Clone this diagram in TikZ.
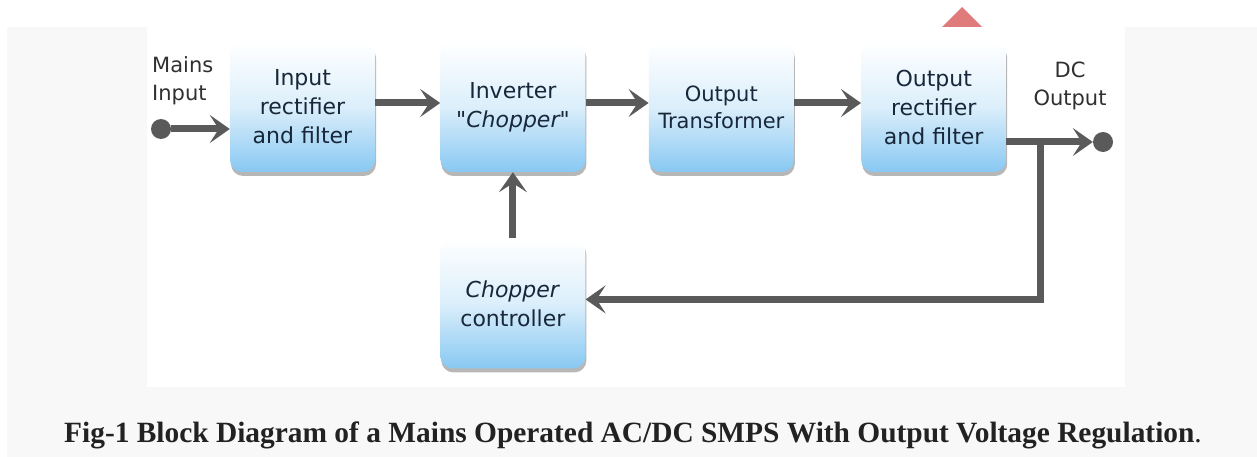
\documentclass[tikz,border=0pt]{standalone}
\usepackage{fontspec}
\setmainfont{DejaVu Sans}
\newfontfamily\blockfont{DejaVu Sans}
\newfontfamily\captionfont{Liberation Serif}
\usepackage{tikz}
\usetikzlibrary{arrows.meta}
\usetikzlibrary{positioning}
\usetikzlibrary{shadows}

\definecolor{pagegray}{HTML}{F8F8F8}
\definecolor{wiregray}{HTML}{5A5A5A}
\definecolor{boxblue}{HTML}{88C8F2}
\definecolor{boxtext}{HTML}{18283A}
\definecolor{labelgray}{HTML}{303030}
\definecolor{markred}{HTML}{E07B7B}
\definecolor{captiongray}{HTML}{222222}

\begin{document}
\begin{tikzpicture}[x=1pt, y=-1pt,
    block/.style={rounded corners=12pt, minimum width=145pt, minimum height=130pt, inner sep=2pt,
      top color=white, bottom color=boxblue, middle color=boxblue!30,
      text=boxtext, align=center, font=\blockfont\fontsize{22}{29}\selectfont,
      drop shadow={shadow xshift=1pt, shadow yshift=-4pt, opacity=0.35, fill=black!80}},
    wire/.style={wiregray, line width=7pt, -{Stealth[length=20pt, width=28pt, inset=9pt]}},
    terminal/.style={circle, fill=wiregray, minimum size=20pt, inner sep=0pt},
    tag/.style={text=labelgray, inner sep=0pt, font=\fontsize{21}{28}\selectfont}]

    \useasboundingbox (0,0) rectangle (1257,457);
    % page and figure area
    \fill [pagegray] (7,27) rectangle (1257,457);
    \fill [white] (147,0) rectangle (1125,387);
    \fill [markred] (942,27) -- (962,7) -- (982,27) -- cycle;

    % blocks
    \node [block] (inrect) at (302.5,107) {Input\\rectifier\\and filter};
    \node [block, right=65pt of inrect] (inverter) {Inverter\\\textit{"Chopper"}};
    \node [block, right=63pt of inverter, font=\blockfont\fontsize{21}{27}\selectfont] (transformer) {Output\\Transformer};
    \node [block, right=67pt of transformer] (outrect) {Output\\rectifier\\and filter};
    \node [block, below=66pt of inverter] (controller) {\textit{Chopper}\\controller};

    % terminals
    \node [tag, align=left, anchor=west] (mains) at (152,81) {Mains\\Input};
    \node [tag, align=center] (dcout) at (1070,86) {DC\\Output};
    \node [terminal] (mainsdot) at (161,129) {};
    \node [terminal] (dcdot) at (1103,142) {};
    \coordinate (tap) at (1040,142);

    % signal path
    \draw [wire] (mainsdot) -- (mainsdot -| inrect.west);
    \draw [wire] ([yshift=4pt]inrect.east) -- ([yshift=4pt]inverter.west);
    \draw [wire] ([yshift=4pt]inverter.east) -- ([yshift=4pt]transformer.west);
    \draw [wire] ([yshift=4pt]transformer.east) -- ([yshift=4pt]outrect.west);
    \draw [wire] (dcdot -| outrect.east) -- (dcdot);

    % feedback loop
    \draw [wire] (tap) |- ([yshift=4pt]controller.east);
    \draw [wire] (controller) -- (inverter);

    \node [anchor=base, text=captiongray, font=\captionfont\fontsize{29.4}{34}\selectfont] (caption) at (633,442)
      {\bfseries Fig-1 Block Diagram of a Mains Operated AC/DC SMPS With Output Voltage Regulation\mdseries.};
\end{tikzpicture}
\end{document}
